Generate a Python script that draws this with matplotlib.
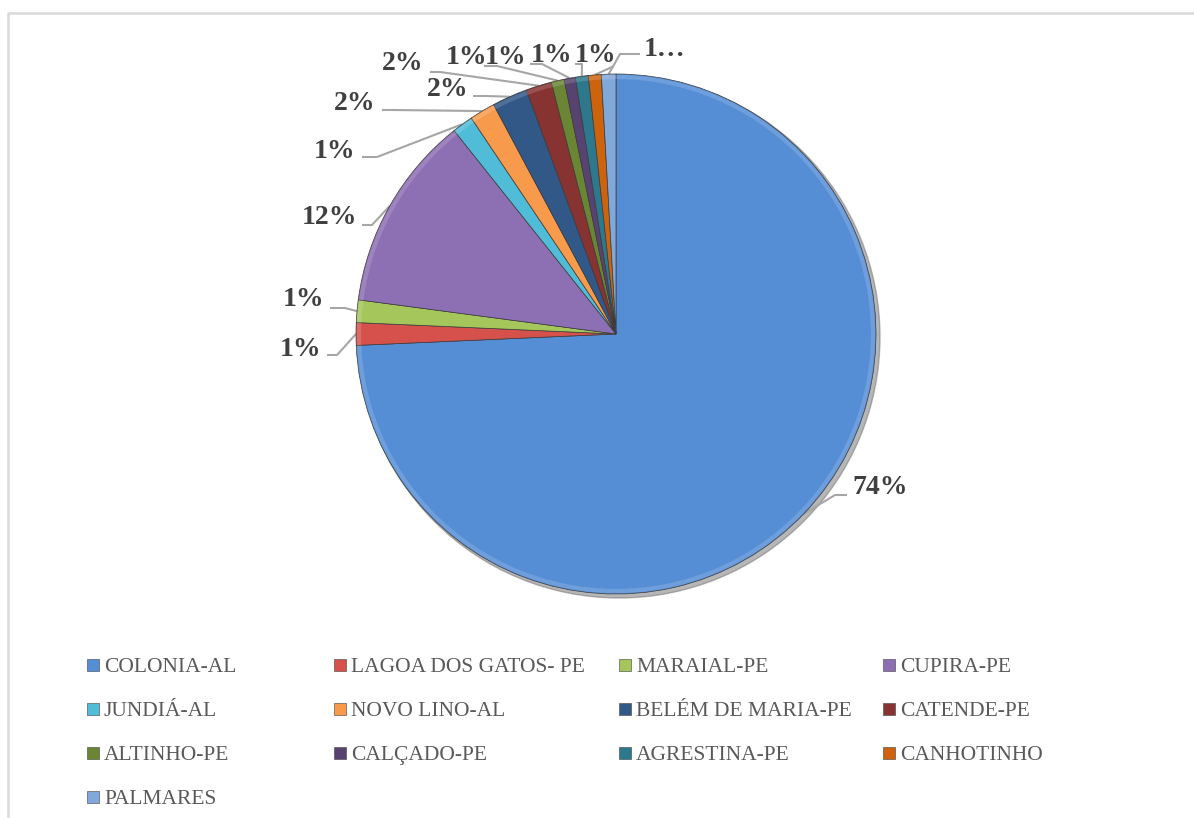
import numpy as np
import matplotlib.pyplot as plt
from matplotlib.patches import Circle, Rectangle

# dados (percentual de cada municipio)
municipios = ['COLONIA-AL', 'LAGOA DOS GATOS- PE', 'MARAIAL-PE', 'CUPIRA-PE',
              'JUNDIÁ-AL', 'NOVO LINO-AL', 'BELÉM DE MARIA-PE', 'CATENDE-PE',
              'ALTINHO-PE', 'CALÇADO-PE', 'AGRESTINA-PE', 'CANHOTINHO',
              'PALMARES']
valores = [74.3, 1.4, 1.4, 12.2, 1.3, 1.6, 2.2, 1.6, 0.8, 0.7, 0.8, 0.8, 0.9]
cores = ['#558ED5', '#D6504C', '#A5C65A', '#8D6FB3', '#50BCD8', '#F89A4C',
         '#325888', '#873331', '#6A8634', '#584370', '#2D788D', '#CD630D',
         '#80A8DA']

W, H = 1194, 818
def Y(y):
	return H - y

fig = plt.figure(figsize=(W/100, H/100), dpi=100)
ax = fig.add_axes([0, 0, 1, 1])

cx, cy, R = 616, Y(334), 260

# sombra
ax.add_patch(Circle((cx + 3, cy - 3), R + 1, color='#6F6F6F', alpha=0.5, zorder=0))

wedges, _ = ax.pie(valores, colors=cores, startangle=90, counterclock=False,
                   center=(cx, cy), radius=R,
                   wedgeprops=dict(edgecolor='#3A3A3A', linewidth=0.5))
for w in wedges:
	w.set_zorder(1)
# leve brilho na borda (efeito de bisel)
ax.add_patch(Circle((cx, cy), R - 3, fill=False, edgecolor='white', lw=3,
                    alpha=0.15, zorder=1.5))

# rotulos de porcentagem
total = sum(valores)
rotulos = ['%d%%' % round(v / total * 100) for v in valores]
rotulos[-1] = rotulos[-1][0] + '…'

pos_rot = [(880, 488), (301, 349), (304, 300), (330, 218), (335, 151),
           (355, 103), (448, 90), (403, 64), (467, 57), (506, 57),
           (552, 55), (596, 55), (665, 50)]
inicio = [(847, 495), (327, 355), (330, 308), (362, 225), (362, 157),
          (382, 110), (473, 96), (430, 72), (484, 66), (530, 64),
          (575, 64), (613, 66), (640, 54)]
cotovelo = [(835, 495), (337, 355), (345, 308), (372, 225), (377, 157),
            (392, 110), (485, 96), (440, 72), (497, 66), (542, 64),
            (582, 64), (612, 67), (620, 54)]

ang = 90.0
for i, w in enumerate(wedges):
	frac = valores[i] / total * 360
	meio = np.radians(ang - frac / 2)
	ang -= frac
	ex = cx + R * np.cos(meio)
	ey = cy + R * np.sin(meio)
	sx, sy = inicio[i]
	kx, ky = cotovelo[i]
	ax.plot([sx, kx, ex], [Y(sy), Y(ky), ey], color='#A6A6A6', lw=1.5,
	        zorder=0.5, solid_capstyle='butt')
	tx, ty = pos_rot[i]
	ax.text(tx, Y(ty), rotulos[i], ha='center', va='center',
	        fontsize=20, fontweight='bold', family='Liberation Serif',
	        color='#404040', zorder=3)

# legenda
col_x = [87, 334, 619, 883]
lin_y = [665, 709, 753, 797]
for i, nome in enumerate(municipios):
	x = col_x[i % 4]
	y = lin_y[i // 4]
	ax.add_patch(Rectangle((x, Y(y) - 6), 12, 12, facecolor=cores[i],
	                       edgecolor='#404040', lw=0.4))
	ax.text(x + 17, Y(y + 7), nome, ha='left', va='baseline', fontsize=15.5,
	        family='Liberation Serif', color='#595959')

# moldura
ax.plot([8, 8, W], [0, Y(13), Y(13)], color='#D9D9D9', lw=1.8)

ax.set_xlim(0, W)
ax.set_ylim(0, H)
ax.set_aspect('equal')
ax.axis('off')

fig.savefig('out.png', dpi=100)
